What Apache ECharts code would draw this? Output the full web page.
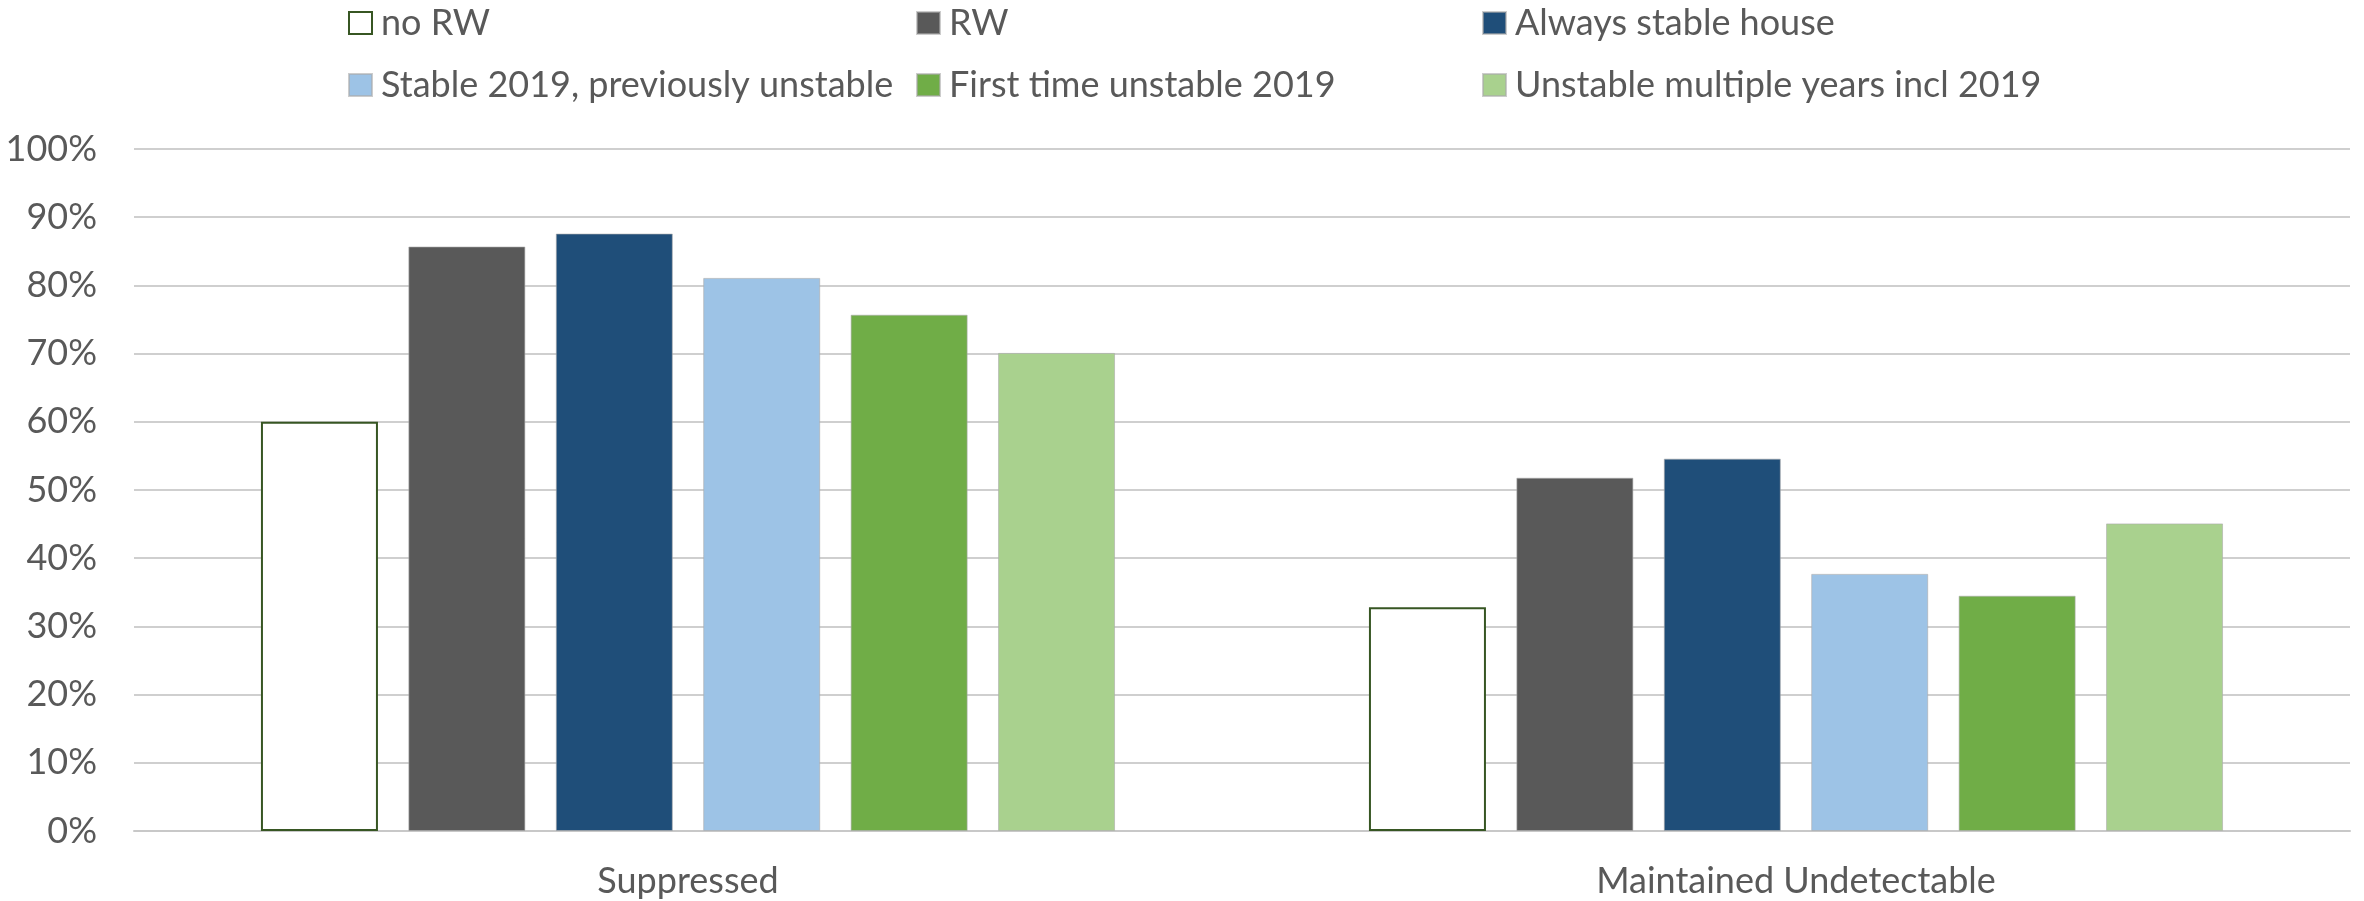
<!DOCTYPE html>
<html>
<head>
<meta charset="utf-8">
<script src="https://cdn.jsdelivr.net/npm/echarts@6/dist/echarts.min.js"></script>
<style>
html,body{margin:0;padding:0;background:#fff;}
#chart{width:2364px;height:901px;}
</style>
</head>
<body>
<div id="chart"></div>
<script>
const categories = ['Suppressed', 'Maintained Undetectable'];
const seriesNames = ['no RW', 'RW', 'Always stable house', 'Stable 2019, previously unstable', 'First time unstable 2019', 'Unstable multiple years incl 2019'];
const noRW = [60.0, 32.8];
const rw = [85.7, 51.8];
const alwaysStable = [87.6, 54.6];
const stable2019 = [81.1, 37.7];
const firstTime2019 = [75.7, 34.5];
const unstableMulti = [70.1, 45.1];
const yTicks = [0, 10, 20, 30, 40, 50, 60, 70, 80, 90, 100];

const values = [noRW, rw, alwaysStable, stable2019, firstTime2019, unstableMulti];
const colors = ['#ffffff', '#595959', '#1F4E79', '#9DC3E6', '#70AD47', '#A9D18E'];
const FONT = 'Lato';
const TXT = '#595959';

const legendPos = [
  [348, 5], [916, 5], [1482, 5],
  [348, 67], [916, 67], [1482, 67]
];

const chart = echarts.init(document.getElementById('chart'), null, {renderer: 'canvas'});

const series = seriesNames.map((name, i) => ({
  name: name,
  type: 'bar',
  data: values[i],
  barWidth: 117,
  barGap: '26%',
  itemStyle: i === 0
    ? {color: '#ffffff', borderColor: '#375623', borderWidth: 2}
    : {color: colors[i], borderColor: 'rgba(170,170,170,0.6)', borderWidth: 1},
  emphasis: {disabled: true}
}));

const legends = seriesNames.map((name, i) => ({
  data: [{name: name, icon: 'rect'}],
  left: legendPos[i][0],
  top: legendPos[i][1],
  padding: 0,
  itemWidth: 23,
  itemHeight: 22,
  selectedMode: false,
  textStyle: {fontFamily: FONT, fontSize: 36, color: TXT, padding: [0, 0, 0, 4]}
}));

chart.setOption({
  animation: false,
  backgroundColor: '#ffffff',
  legend: legends,
  grid: {left: 134, right: 14, top: 149, bottom: 70, containLabel: false},
  xAxis: {
    type: 'category',
    data: categories,
    axisTick: {show: false},
    axisLine: {lineStyle: {color: '#c8c8c8', width: 2}},
    axisLabel: {fontFamily: FONT, fontSize: 36, color: TXT, margin: 32}
  },
  yAxis: {
    type: 'value',
    min: yTicks[0],
    max: yTicks[yTicks.length - 1],
    interval: 10,
    axisLine: {show: false},
    axisTick: {show: false},
    splitLine: {lineStyle: {color: '#cfcfcf', width: 2}},
    axisLabel: {fontFamily: FONT, fontSize: 36, color: TXT, margin: 37, formatter: '{value}%'}
  },
  series: series
});
</script>
</body>
</html>
